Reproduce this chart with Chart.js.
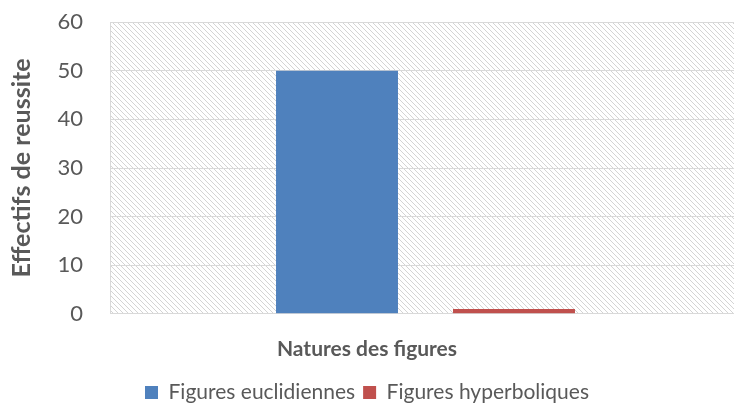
<!DOCTYPE html>
<html lang="fr">
<head>
    <meta charset="UTF-8">
    <title>Effectifs de reussite</title>
    <style>
        html, body { margin: 0; padding: 0; background: #fff; overflow: hidden; }
        canvas { display: block; }
    </style>
</head>
<body>
    <canvas id="chart" width="734" height="407"></canvas>

    <script src="https://cdn.jsdelivr.net/npm/chart.js"></script>
    <script>
      const categories = [''];
      const seriesNames = ['Figures euclidiennes', 'Figures hyperboliques'];
      const euclidiennes = [50];
      const hyperboliques = [1];
      const yTicks = [0, 10, 20, 30, 40, 50, 60];

      const FONT = 'Lato, "Open Sans", sans-serif';
      const GREY = '#595959';
      const OVERHANG = 7; // plot area runs a little past the right edge

      // light diagonal hatching for the plot area
      function hatchPattern() {
          const size = 5;
          const c = document.createElement('canvas');
          c.width = size; c.height = size;
          const g = c.getContext('2d');
          g.fillStyle = '#ffffff';
          g.fillRect(0, 0, size, size);
          g.strokeStyle = '#d4d4d4';
          g.lineWidth = 1;
          g.beginPath();
          g.moveTo(-1, -1); g.lineTo(size + 1, size + 1);
          g.moveTo(-1, size - 1); g.lineTo(1, size + 1);
          g.moveTo(size - 1, -1); g.lineTo(size + 1, 1);
          g.stroke();
          return g.createPattern(c, 'repeat');
      }

      const areaFill = {
          id: 'areaFill',
          afterLayout(chart) {
              const x = chart.scales.x;
              x.right += OVERHANG;
              x.width += OVERHANG;
              chart.chartArea.right += OVERHANG;
              chart.chartArea.width += OVERHANG;
              x.configure();
          },
          beforeDraw(chart) {
              const { ctx, chartArea } = chart;
              ctx.save();
              ctx.fillStyle = hatchPattern();
              ctx.fillRect(chartArea.left, chartArea.top,
                           chartArea.right - chartArea.left, chartArea.bottom - chartArea.top);
              ctx.restore();
          }
      };

      new Chart(document.getElementById('chart').getContext('2d'), {
          type: 'bar',
          data: {
              labels: categories,
              datasets: [{
                  label: seriesNames[0],
                  data: euclidiennes,
                  backgroundColor: '#4f81bd'
              }, {
                  label: seriesNames[1],
                  data: hyperboliques,
                  backgroundColor: '#c0504d'
              }]
          },
          options: {
              responsive: false,
              animation: false,
              devicePixelRatio: 1,
              layout: { padding: { top: 5, right: 0, left: 0, bottom: -6 } },
              datasets: {
                  bar: { categoryPercentage: 0.561, barPercentage: 0.689 }
              },
              plugins: {
                  tooltip: { enabled: false },
                  // category axis title, centred on the whole canvas
                  title: {
                      display: true,
                      position: 'bottom',
                      weight: 500,
                      text: 'Natures des figures',
                      color: GREY,
                      font: { family: FONT, size: 21, weight: 'bold' },
                      padding: { top: 23, bottom: 12 }
                  },
                  legend: {
                      position: 'bottom',
                      labels: {
                          color: GREY,
                          font: { family: FONT, size: 21 },
                          boxWidth: 13,
                          boxHeight: 13,
                          padding: 8
                      }
                  }
              },
              scales: {
                  x: {
                      grid: { display: false, drawTicks: false },
                      border: { display: true, color: '#d9d9d9' },
                      ticks: { display: false }
                  },
                  y: {
                      min: 0,
                      max: 60,
                      afterBuildTicks(axis) {
                          axis.ticks = yTicks.map(v => ({ value: v }));
                      },
                      afterFit(axis) {
                          axis.width = 110;
                      },
                      grid: {
                          color: '#d9d9d9',
                          drawTicks: true,
                          tickLength: 18,
                          tickColor: 'rgba(0,0,0,0)'
                      },
                      border: { display: true, color: '#d9d9d9' },
                      ticks: {
                          color: GREY,
                          font: { family: FONT, size: 22 },
                          padding: 9
                      },
                      title: {
                          display: true,
                          text: 'Effectifs de reussite',
                          color: GREY,
                          font: { family: FONT, size: 25, weight: 'bold' },
                          padding: { top: 7, bottom: 0 }
                      }
                  }
              }
          },
          plugins: [areaFill]
      });
    </script>
</body>
</html>
